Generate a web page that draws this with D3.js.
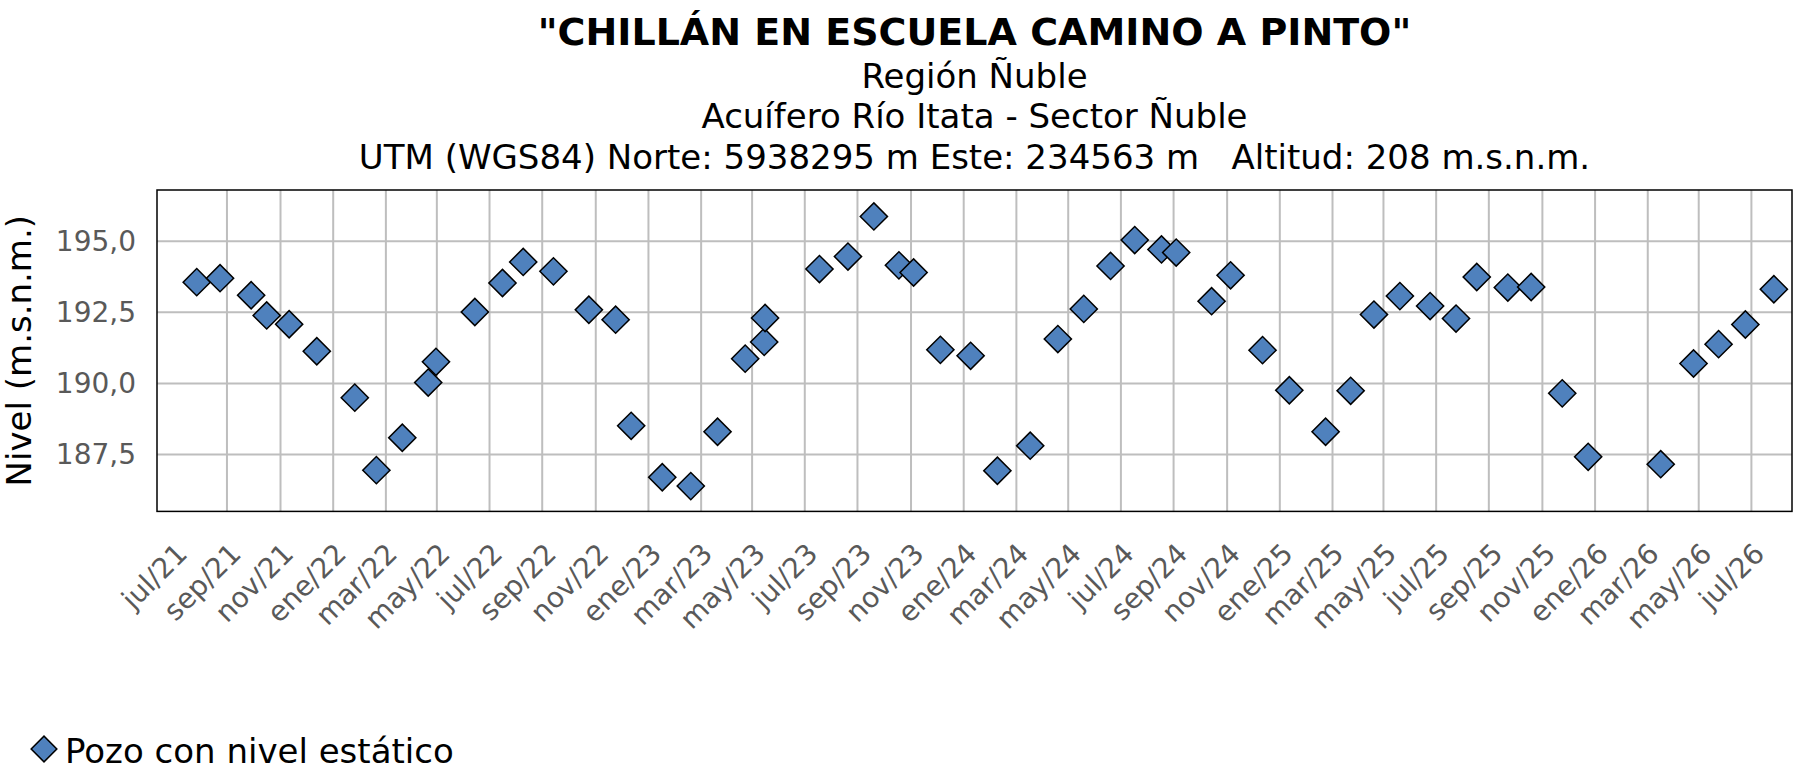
<!DOCTYPE html>
<html>
<head>
<meta charset="utf-8">
<script src="https://cdn.jsdelivr.net/npm/d3@7"></script>
<style>
  html, body { margin: 0; padding: 0; background: #fff; overflow: hidden; }
  svg { display: block; font-family: "DejaVu Sans", Verdana, sans-serif; }
</style>
</head>
<body>
<div id="chart"></div>
<script>
// Data
const fechas = [
  "2021-05-27", "2021-06-23", "2021-07-29", "2021-08-16", "2021-09-11", "2021-10-13",
  "2021-11-26", "2021-12-21", "2022-01-20", "2022-02-19", "2022-02-28", "2022-04-14",
  "2022-05-16", "2022-06-09", "2022-07-14", "2022-08-24", "2022-09-24", "2022-10-12",
  "2022-11-17", "2022-12-20", "2023-01-20", "2023-02-21", "2023-03-15", "2023-03-16",
  "2023-05-18", "2023-06-20", "2023-07-20", "2023-08-18", "2023-09-04", "2023-10-05",
  "2023-11-09", "2023-12-10", "2024-01-17", "2024-02-18", "2024-03-19", "2024-04-19",
  "2024-05-17", "2024-06-17", "2024-07-04", "2024-08-14", "2024-09-05", "2024-10-12",
  "2024-11-12", "2024-12-24", "2025-01-22", "2025-02-18", "2025-03-20", "2025-04-24",
  "2025-05-24", "2025-06-17", "2025-07-23", "2025-08-19", "2025-09-24", "2025-10-24",
  "2026-01-16", "2026-02-23", "2026-03-24", "2026-04-24", "2026-05-27"
];
const niveles = [
  193.56, 193.70, 193.10, 192.39, 192.08, 191.13,
  189.50, 186.95, 188.09, 190.03, 190.76, 192.51,
  193.53, 194.27, 193.94, 192.59, 192.24, 188.51,
  186.70, 186.39, 188.30, 190.87, 191.46, 192.30,
  194.02, 194.46, 195.87, 194.15, 193.90, 191.18,
  190.97, 186.93, 187.81, 191.56, 192.62, 194.13,
  195.04, 194.71, 194.60, 192.89, 193.80, 191.17,
  189.76, 188.30, 189.74, 192.42, 193.07, 192.72,
  192.28, 193.74, 193.37, 193.39, 189.65, 187.42,
  187.16, 190.70, 191.38, 192.07, 193.31
];

const xDominio = ["2021-04-11", "2026-06-17"];
const yDominio = [185.5, 196.8];
const yTicks = [187.5, 190, 192.5, 195];
const xTickInicio = "2021-07-01";
const xTickFin = "2026-07-02";
const mesesAbrev = ["ene", "feb", "mar", "abr", "may", "jun", "jul", "ago", "sep", "oct", "nov", "dic"];

const titulo = "\"CHILLÁN EN ESCUELA CAMINO A PINTO\"";
const subtitulos = [
  "Región Ñuble",
  "Acuífero Río Itata - Sector Ñuble",
  "UTM (WGS84) Norte: 5938295 m Este: 234563 m   Altitud: 208 m.s.n.m."
];
const tituloY = "Nivel (m.s.n.m.)";
const leyenda = "Pozo con nivel estático";

// Layout
const width = 1797;
const height = 777;
const margin = {top: 190, right: 5, bottom: 265.6, left: 157};
const innerWidth = width - margin.left - margin.right;
const innerHeight = height - margin.top - margin.bottom;
const plotBottom = margin.top + innerHeight;
const plotRight = margin.left + innerWidth;
const colorMarca = "#4F81BD";
const colorGrid = "#BEBEBE";
const colorTick = "#595959";

const parse = d3.utcParse("%Y-%m-%d");
const data = fechas.map((f, i) => ({date: parse(f), value: niveles[i]}));

const svg = d3.select("#chart")
  .append("svg")
    .attr("width", width)
    .attr("height", height)
    .attr("viewBox", [0, 0, width, height]);

svg.append("rect")
  .attr("width", width)
  .attr("height", height)
  .attr("fill", "#fff");

// Scales
const xScale = d3.scaleUtc()
  .domain(xDominio.map(parse))
  .range([margin.left, plotRight]);

const yScale = d3.scaleLinear()
  .domain(yDominio)
  .range([plotBottom, margin.top]);

const tickDates = d3.utcMonths(parse(xTickInicio), parse(xTickFin), 2);

const esLocale = d3.formatLocale({decimal: ",", thousands: ".", grouping: [3], currency: ["$", ""]});
const fmtNivel = esLocale.format(".1f");
const fmtMes = d => `${mesesAbrev[d.getUTCMonth()]}/${String(d.getUTCFullYear()).slice(2)}`;

// Grid
svg
  .append("g")
    .attr("class", "grid-x")
  .selectAll("line")
  .data(tickDates.filter(d => xScale(d) > margin.left && xScale(d) < plotRight))
  .join("line")
    .attr("x1", d => xScale(d))
    .attr("x2", d => xScale(d))
    .attr("y1", margin.top)
    .attr("y2", plotBottom)
    .attr("stroke", colorGrid)
    .attr("stroke-width", 2);

svg
  .append("g")
    .attr("class", "grid-y")
  .selectAll("line")
  .data(yTicks)
  .join("line")
    .attr("x1", margin.left)
    .attr("x2", plotRight)
    .attr("y1", d => yScale(d))
    .attr("y2", d => yScale(d))
    .attr("stroke", colorGrid)
    .attr("stroke-width", 2);

// Tick labels, x (rotated, end of text sits left of its gridline)
const labelY = plotBottom + 44;
svg
  .append("g")
    .attr("class", "axis axis-x")
  .selectAll("text")
  .data(tickDates)
  .join("text")
    .attr("x", d => xScale(d) - 38)
    .attr("y", labelY)
    .attr("transform", d => `rotate(-45, ${xScale(d) - 38}, ${labelY})`)
    .attr("text-anchor", "end")
    .attr("fill", colorTick)
    .style("font-size", "28px")
    .text(fmtMes);

// Tick labels, y
svg
  .append("g")
    .attr("class", "axis axis-y")
  .selectAll("text")
  .data(yTicks)
  .join("text")
    .attr("x", margin.left - 21)
    .attr("y", d => yScale(d))
    .attr("dy", "0.35em")
    .attr("text-anchor", "end")
    .attr("fill", colorTick)
    .style("font-size", "28px")
    .text(fmtNivel);

// Plot border
svg
  .append("rect")
    .attr("x", margin.left)
    .attr("y", margin.top)
    .attr("width", innerWidth)
    .attr("height", innerHeight)
    .attr("fill", "none")
    .attr("stroke", "#000")
    .attr("stroke-width", 1.5);

// Points
const diamond = d3.symbol().type(d3.symbolSquare).size(370);
svg
  .append("g")
    .attr("class", "points")
  .selectAll("path")
  .data(data)
  .join("path")
    .attr("d", diamond)
    .attr("transform", d => `translate(${xScale(d.date)}, ${yScale(d.value)}) rotate(45)`)
    .attr("fill", colorMarca)
    .attr("stroke", "#000")
    .attr("stroke-width", 1.5);

// Titles
const centerX = margin.left + innerWidth / 2;
svg.append("text")
  .attr("x", centerX)
  .attr("y", 45)
  .attr("text-anchor", "middle")
  .style("font-size", "38px")
  .style("font-weight", "bold")
  .text(titulo);

svg.append("g")
  .selectAll("text")
  .data(subtitulos)
  .join("text")
    .attr("x", centerX)
    .attr("y", (d, i) => 88 + i * 40.3)
    .attr("text-anchor", "middle")
    .style("font-size", "34px")
    .style("white-space", "pre")
    .text(d => d);

// Y title: rotated about (yMid, yMid) so that it lands centred at x = 31
const yMid = margin.top + innerHeight / 2;
svg.append("text")
  .attr("x", yMid)
  .attr("y", 31)
  .attr("transform", `rotate(-90, ${yMid}, ${yMid})`)
  .attr("text-anchor", "middle")
  .style("font-size", "34px")
  .text(tituloY);

// Legend
svg.append("path")
  .attr("d", d3.symbol().type(d3.symbolSquare).size(330))
  .attr("transform", "translate(44, 749) rotate(45)")
  .attr("fill", colorMarca)
  .attr("stroke", "#000")
  .attr("stroke-width", 1.5);
svg.append("text")
  .attr("x", 65)
  .attr("y", 763)
  .style("font-size", "34px")
  .text(leyenda);
</script>
</body>
</html>
